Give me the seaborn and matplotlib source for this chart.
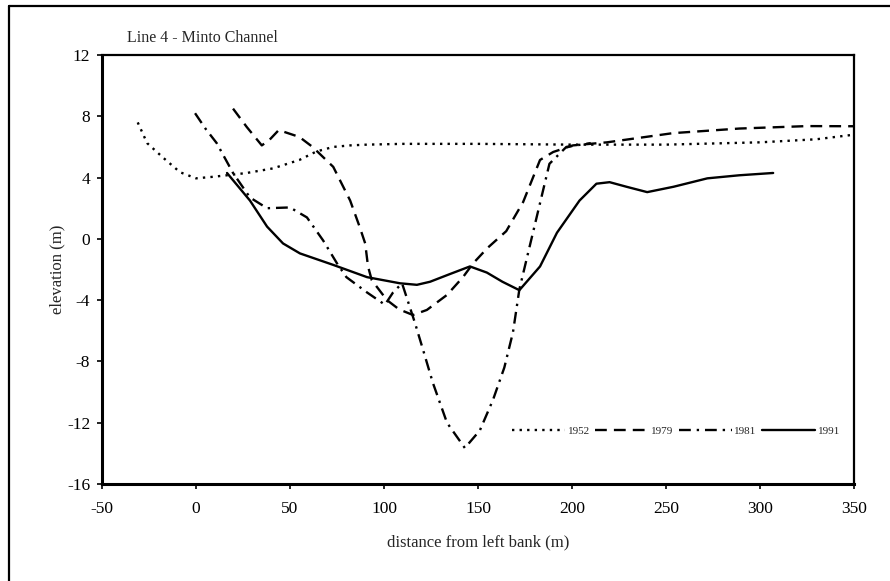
import numpy as np
import pandas as pd
import matplotlib
matplotlib.use("Agg")
import matplotlib.pyplot as plt
from matplotlib.lines import Line2D
import seaborn as sns

# ---- data ----
x_1952 = [-31, -26, -17.5, -8.5, 0, 9, 18, 27, 41, 55, 64, 73, 82, 91, 110, 150, 200, 250, 300, 330, 350]
y_1952 = [7.6, 6.25, 5.3, 4.35, 3.95, 4.05, 4.17, 4.3, 4.6, 5.15, 5.7, 6.0, 6.1, 6.15, 6.2, 6.2, 6.15, 6.15, 6.3, 6.5, 6.8]

x_1979 = [19.7, 27, 35, 39, 44, 55, 62, 73, 82, 87, 90, 91.5, 93.5, 101.6, 108, 115.4, 122.8, 133.5, 142,
          147.4, 155, 165, 174, 183, 190, 200.5, 218.6, 253.7, 289, 325, 350]
y_1979 = [8.5, 7.3, 6.1, 6.45, 7.1, 6.65, 6.0, 4.7, 2.5, 0.8, -0.3, -1.8, -2.7, -4.0, -4.6, -4.97, -4.64, -3.66, -2.5,
          -1.6, -0.6, 0.5, 2.4, 5.15, 5.67, 6.1, 6.3, 6.9, 7.2, 7.36, 7.35]

x_1981 = [-0.5, 5, 11, 19.7, 28.7, 37.8, 50, 59, 67.6, 75, 80, 91, 100.5, 104.8, 109.6, 112, 116.5, 120.8, 126,
          133.5, 143, 151, 158, 164, 168.6, 172, 180, 188, 197, 210]
y_1981 = [8.2, 7.2, 6.25, 4.3, 2.7, 2.0, 2.05, 1.4, -0.1, -1.6, -2.5, -3.5, -4.3, -3.5, -2.9, -3.8, -5.5, -7.25, -9.4,
          -12.0, -13.65, -12.5, -10.5, -8.4, -6.1, -3.3, 0.8, 4.9, 6.0, 6.25]

x_1991 = [16.5, 28.7, 37.8, 46.3, 55.3, 73, 91, 108.5, 117.5, 124.5, 135, 145.7, 154.7, 163, 172, 183, 192, 204,
          213, 220, 229, 240, 254, 272, 289, 307]
y_1991 = [4.3, 2.5, 0.8, -0.3, -0.95, -1.7, -2.5, -2.9, -3.0, -2.8, -2.3, -1.8, -2.2, -2.8, -3.35, -1.8, 0.4, 2.5,
          3.6, 3.7, 3.4, 3.05, 3.4, 3.95, 4.15, 4.3]

years = ["1952", "1979", "1981", "1991"]
x_ticks = [-50, 0, 50, 100, 150, 200, 250, 300, 350]
y_ticks = [-16, -12, -8, -4, 0, 4, 8, 12]

series = {"1952": (x_1952, y_1952), "1979": (x_1979, y_1979),
          "1981": (x_1981, y_1981), "1991": (x_1991, y_1991)}
frames = []
for yr in years:
    xs, ys = series[yr]
    frames.append(pd.DataFrame({"distance": xs, "elevation": ys, "year": yr}))
df = pd.concat(frames, ignore_index=True)

# ---- style ----
sns.set_style("ticks")
plt.rcParams["font.family"] = ["Liberation Serif", "DejaVu Serif"]
plt.rcParams["axes.unicode_minus"] = False

fig = plt.figure(figsize=(8.9, 5.81), dpi=100)
ax = fig.add_axes([102 / 890, 1 - 484 / 581, (854 - 102) / 890, (484 - 55) / 581])

dashes = {"1952": (1, 2.2), "1979": (5, 3), "1981": (5, 2.5, 1, 2.5), "1991": ""}
sns.lineplot(data=df, x="distance", y="elevation", style="year", style_order=years,
             dashes=dashes, color="black", linewidth=1.7, estimator=None, sort=False,
             ax=ax, legend=True)

ax.set_xlim(-50, 350)
ax.set_ylim(-16, 12)
ax.set_xticks(x_ticks)
ax.set_yticks(y_ticks)
ax.tick_params(axis="both", direction="out", length=3.5, width=1.2, labelsize=12.5, colors="black")
ax.tick_params(axis="x", pad=9)
ax.tick_params(axis="y", pad=5)
for s in ["left", "bottom"]:
    ax.spines[s].set_linewidth(2.2)
for s in ["top", "right"]:
    ax.spines[s].set_linewidth(1.6)
    ax.spines[s].set_visible(True)
for s in ax.spines.values():
    s.set_color("black")

ax.set_xlabel("distance from left bank (m)", fontsize=12, labelpad=12)
ax.set_ylabel("elevation (m)", fontsize=12, labelpad=1)

handles, labels = ax.get_legend_handles_labels()
hl = [(h, l) for h, l in zip(handles, labels) if l in years]
leg = ax.legend([h for h, _ in hl], [l for _, l in hl], ncol=4, loc="center left",
                bbox_to_anchor=((512 - 102) / 752, (484 - 431) / 429), frameon=False,
                fontsize=8, handlelength=4.8, handletextpad=0.2, columnspacing=0.5,
                borderpad=0, borderaxespad=0)

fig.text(127 / 890, 1 - 38 / 581, "Line 4 - Minto Channel", fontsize=11.5, ha="left", va="center")

# outer frame (top and left edges visible)
fig.add_artist(Line2D([9 / 890, 1.0], [1 - 6 / 581, 1 - 6 / 581], transform=fig.transFigure, color="black", lw=1.6))
fig.add_artist(Line2D([9 / 890, 9 / 890], [0, 1 - 6 / 581], transform=fig.transFigure, color="black", lw=1.6))

fig.savefig("out.png", dpi=100)
